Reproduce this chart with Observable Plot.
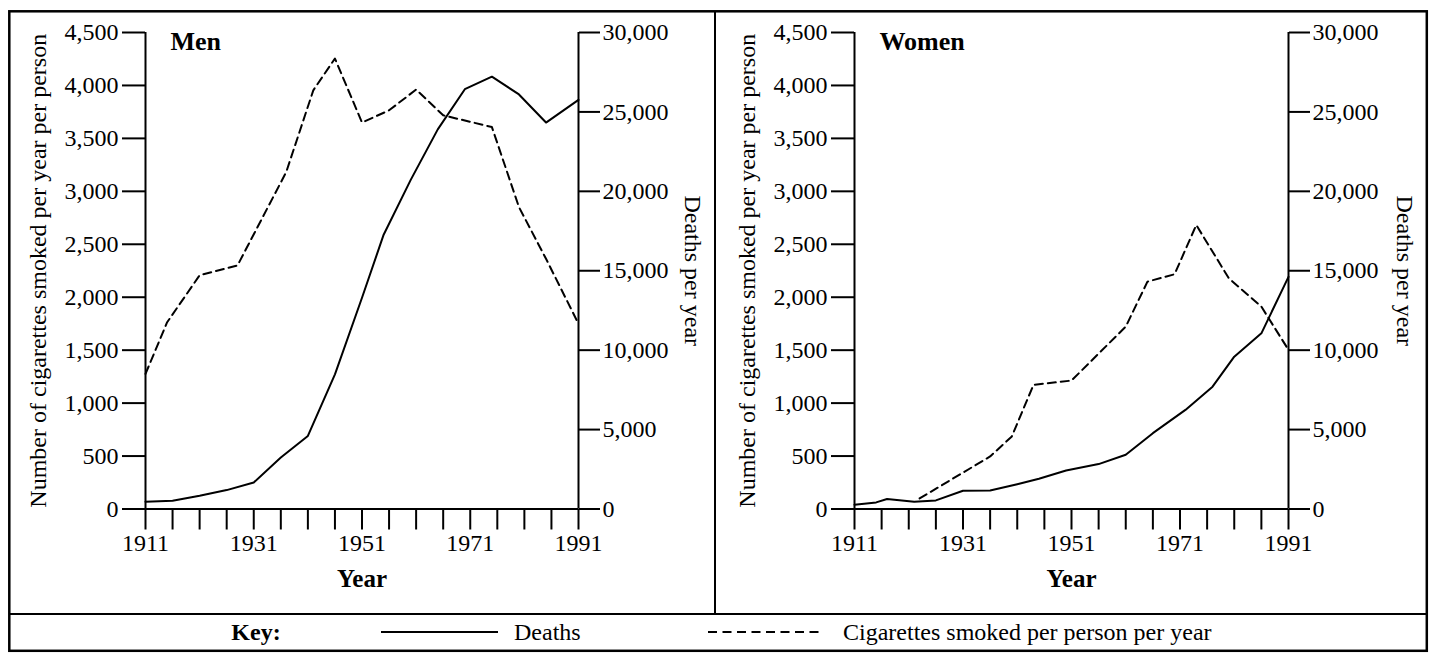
<!DOCTYPE html>
<html><head><meta charset="utf-8">
<script src="https://cdn.jsdelivr.net/npm/d3@7"></script>
<script src="https://cdn.jsdelivr.net/npm/@observablehq/plot@0.6"></script>
<style>
body{margin:0;background:#fff;}
#wrap{position:relative;width:1430px;height:653px;overflow:hidden;font-family:"Liberation Serif","Times New Roman",serif;background:#fff;}
.panel{position:absolute;top:0;}
#frame{position:absolute;left:0;top:0;pointer-events:none;}
svg line{stroke-width:2;}
</style></head><body>
<div id="wrap">
  <div id="men" class="panel" style="left:0"></div>
  <div id="women" class="panel" style="left:715px"></div>
  <svg id="frame" width="1430" height="653"></svg>
</div>
<script>
// ---- data ----
const menDeathYears = [1911,1916,1921,1926,1931,1936,1941,1946,1951,1955,1960,1965,1970,1975,1980,1985,1991];
const menDeaths     = [460,520,835,1190,1670,3240,4600,8480,13300,17270,20720,23900,26430,27220,26100,24330,25760];
const menCigYears   = [1911,1915,1921,1928,1937,1942,1946,1951,1956,1961,1966,1975,1980,1985,1991];
const menCig        = [1276,1764,2207,2300,3182,3954,4254,3650,3765,3961,3718,3607,2851,2363,1749];

const womenDeathYears = [1911,1915,1917,1922,1926,1931,1936,1941,1945,1950,1956,1961,1966,1972,1977,1981,1986,1991];
const womenDeaths     = [270,415,628,459,540,1150,1169,1560,1904,2425,2827,3412,4775,6239,7703,9588,11058,14614];
const womenCigYears   = [1923,1936,1940,1944,1951,1961,1965,1970,1974,1980,1986,1991];
const womenCig        = [100,496,685,1173,1213,1722,2147,2217,2682,2179,1911,1503];

const leftTicks  = [0,500,1000,1500,2000,2500,3000,3500,4000,4500];
const rightTicks = [0,5000,10000,15000,20000,25000,30000];
const xTicks     = [1911,1916,1921,1926,1931,1936,1941,1946,1951,1956,1961,1966,1971,1976,1981,1986,1991];
const xLabels    = [1911,1931,1951,1971,1991];

const leftLabel  = "Number of cigarettes smoked per year per person";
const rightLabel = "Deaths per year";
const xLabel     = "Year";
const titles     = ["Men","Women"];
const keyTitle   = "Key:";
const keyItems   = ["Deaths","Cigarettes smoked per person per year"];

// ---- chart ----
const LEFT_MAX = 4500, RIGHT_MAX = 30000, RATIO = LEFT_MAX / RIGHT_MAX;
const FONT = '"Liberation Serif","Times New Roman",serif';
const fmt = d3.format(",");

function panel(title, dYears, dVals, cYears, cVals, mL, mR, rdx) {
  const deaths = dYears.map((y,i)=>({year:y, v:dVals[i]*RATIO}));
  const cig = cYears.map((y,i)=>({year:y, v:cVals[i]}));
  return Plot.plot({
    width:715, height:614,
    marginLeft:mL, marginRight:mR, marginTop:32, marginBottom:105.5,
    style:{fontFamily:FONT, fontSize:"24px", color:"#000", background:"transparent", overflow:"visible"},
    x:{domain:[1911,1991]},
    y:{domain:[0,LEFT_MAX]},
    marks:[
      Plot.ruleY([0], {stroke:"#000", strokeWidth:2}),
      Plot.ruleX([1911], {x:d=>d, y1:0, y2:LEFT_MAX, stroke:"#000", strokeWidth:2}),
      Plot.ruleX([1991], {x:d=>d, y1:0, y2:LEFT_MAX, stroke:"#000", strokeWidth:2}),
      Plot.axisY(leftTicks, {anchor:"left", tickSize:23, tickPadding:4, tickFormat:fmt, stroke:"#000", strokeWidth:2, label:null, fontSize:24}),
      Plot.axisY(rightTicks.map(d=>d*RATIO), {anchor:"right", tickSize:21, tickPadding:3, tickFormat:d=>fmt(Math.round(d/RATIO)), stroke:"#000", strokeWidth:2, label:null, fontSize:24}),
      Plot.axisX(xTicks, {anchor:"bottom", tickSize:21, tickPadding:4, tickFormat:d=>xLabels.includes(d)?String(d):"", stroke:"#000", strokeWidth:2, label:null, fontSize:24}),
      Plot.line(cig, {x:"year", y:"v", stroke:"#000", strokeWidth:2, strokeDasharray:"8,5"}),
      Plot.line(deaths, {x:"year", y:"v", stroke:"#000", strokeWidth:2}),
      Plot.text([title], {frameAnchor:"top-left", dx:25, dy:9, fontWeight:"bold", fontSize:26, textAnchor:"start", lineAnchor:"middle", fill:"#000"}),
      Plot.text([leftLabel], {frameAnchor:"left", dx:-107, rotate:-90, fontSize:24, textAnchor:"middle", lineAnchor:"middle", fill:"#000"}),
      Plot.text([rightLabel], {frameAnchor:"right", dx:rdx, rotate:90, fontSize:24, textAnchor:"middle", lineAnchor:"middle", fill:"#000"}),
      Plot.text([xLabel], {frameAnchor:"bottom", dy:70, fontWeight:"bold", fontSize:25, textAnchor:"middle", lineAnchor:"middle", fill:"#000"})
    ]
  });
}

document.getElementById("men").appendChild(panel(titles[0], menDeathYears, menDeaths, menCigYears, menCig, 145, 137, 114));
document.getElementById("women").appendChild(panel(titles[1], womenDeathYears, womenDeaths, womenCigYears, womenCig, 139, 142, 116));

// ---- frame and key ----
const ns = "http://www.w3.org/2000/svg";
const fr = document.getElementById("frame");
function el(tag, attrs, text) {
  const e = document.createElementNS(ns, tag);
  for (const k in attrs) e.setAttribute(k, attrs[k]);
  if (text != null) e.textContent = text;
  fr.appendChild(e);
  return e;
}
el("rect", {x:9.3, y:11.3, width:1417.5, height:639.5, fill:"none", stroke:"#000", "stroke-width":2.5});
el("line", {x1:9, y1:614, x2:1427, y2:614, stroke:"#000", "stroke-width":2.5});
el("line", {x1:715, y1:11, x2:715, y2:614, stroke:"#000", "stroke-width":2.5});
el("text", {x:256, y:640, "text-anchor":"middle", "font-family":FONT, "font-size":24, "font-weight":"bold"}, keyTitle);
el("line", {x1:381, y1:632, x2:498, y2:632, stroke:"#000", "stroke-width":2});
el("text", {x:514, y:640, "font-family":FONT, "font-size":24}, keyItems[0]);
el("line", {x1:708, y1:632, x2:823, y2:632, stroke:"#000", "stroke-width":2, "stroke-dasharray":"9,5.5"});
el("text", {x:843, y:640, "font-family":FONT, "font-size":24}, keyItems[1]);
</script>
</body></html>
